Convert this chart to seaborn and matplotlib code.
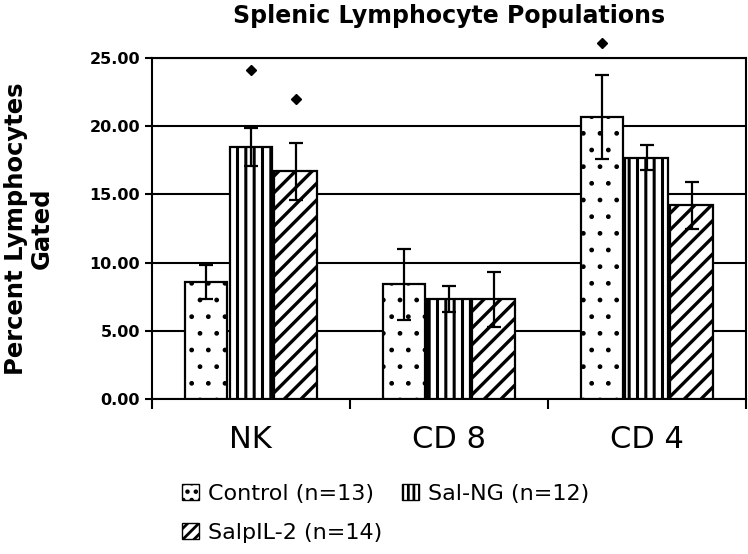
import matplotlib
matplotlib.use("Agg")
import matplotlib.pyplot as plt
import matplotlib.patches as mpatches
import seaborn as sns
import pandas as pd

# values
cells = ["NK", "CD 8", "CD 4"]
groups = ["Control (n=13)", "Sal-NG (n=12)", "SalpIL-2 (n=14)"]
control = [8.6, 8.4, 20.7]
sal_ng = [18.5, 7.3, 17.7]
salpil2 = [16.7, 7.3, 14.2]
control_err = [1.25, 2.6, 3.1]
sal_ng_err = [1.4, 0.95, 0.9]
salpil2_err = [2.1, 2.0, 1.7]
# significance markers (cell, group index, height)
sig_cells = ["NK", "NK", "CD 4"]
sig_groups = [1, 2, 0]
sig_y = [24.1, 22.0, 26.1]

rows = []
for g, vals, errs in zip(groups, [control, sal_ng, salpil2],
                         [control_err, sal_ng_err, salpil2_err]):
    for c, v, e in zip(cells, vals, errs):
        rows.append({"cell": c, "group": g, "value": v, "err": e})
df = pd.DataFrame(rows)

sns.set_style("white")
plt.rcParams['font.family'] = ['DejaVu Sans']
plt.rcParams['text.color'] = 'black'
plt.rcParams['xtick.color'] = 'black'
plt.rcParams['ytick.color'] = 'black'
plt.rcParams['axes.labelcolor'] = 'black'
plt.rcParams['hatch.linewidth'] = 2.0

fig = plt.figure(figsize=(7.48, 5.54), dpi=100)
ax = fig.add_axes([0.203, 0.280, 0.794, 0.615])

sns.barplot(data=df, x="cell", y="value", hue="group", order=cells,
            hue_order=groups, width=0.68, gap=0.05,
            palette=["white"] * 3, edgecolor="black", linewidth=1.6,
            errorbar=None, legend=False, ax=ax, zorder=3)

hatches = [".", "||", "//"]
hatch_lw = [1.0, 2.2, 2.4]
bars = ax.patches[:9]
for i, p in enumerate(bars):
    p.set_hatch(hatches[i // 3])
    p.set_facecolor("white")
    p.set_edgecolor("black")
    if hasattr(p, "set_hatch_linewidth"):
        p.set_hatch_linewidth(hatch_lw[i // 3])

# error bars centered on bars
for i, p in enumerate(bars):
    gi, ci = i // 3, i % 3
    sub = df[(df.group == groups[gi]) & (df.cell == cells[ci])].iloc[0]
    xc = p.get_x() + p.get_width() / 2
    ax.errorbar(xc, sub.value, yerr=sub.err, color="black", capsize=5,
                elinewidth=1.6, capthick=1.6, zorder=5)

for c, gi, y in zip(sig_cells, sig_groups, sig_y):
    p = bars[gi * 3 + cells.index(c)]
    ax.plot(p.get_x() + p.get_width() / 2, y, marker="D", color="black",
            markersize=5, clip_on=False, zorder=6)

ax.set_ylim(0, 25)
ax.set_xlim(-0.5, 2.5)
ax.set_yticks([0, 5, 10, 15, 20, 25])
ax.set_yticklabels([f"{v:.2f}" for v in [0, 5, 10, 15, 20, 25]],
                   fontsize=11.5, fontweight="bold")
ax.yaxis.grid(True, color="black", linewidth=1.5, zorder=0)
ax.set_axisbelow(True)
ax.tick_params(axis="y", left=True, length=5, width=1.5, direction="out")
ax.set_xticks([-0.5, 0.5, 1.5, 2.5], minor=True)
ax.tick_params(axis="x", which="major", length=0, labelsize=22, pad=19)
ax.tick_params(axis="x", which="minor", bottom=True, length=7, width=1.5,
               direction="out")
for s in ax.spines.values():
    s.set_visible(True)
    s.set_color("black")
    s.set_linewidth(1.5)

ax.set_xlabel("")
ax.set_ylabel("Percent Lymphocytes\nGated", fontsize=17.5, fontweight="bold",
              labelpad=26, linespacing=1.05)
ax.set_title("Splenic Lymphocyte Populations", fontsize=17,
             fontweight="heavy", pad=25)

handles = [mpatches.Patch(facecolor="white", edgecolor="black", hatch=h,
                          label=g) for h, g in zip(["..", "|||", "///"], groups)]
order = [0, 2, 1]
leg = fig.legend([handles[i] for i in order], [groups[i] for i in order],
                 loc="upper left", bbox_to_anchor=(0.229, 0.147), ncol=2,
                 frameon=False, fontsize=16, handlelength=0.75,
                 handleheight=0.75, handletextpad=0.4, columnspacing=0.9,
                 labelspacing=0.85, borderpad=0)

fig.savefig("out.png", dpi=100)
